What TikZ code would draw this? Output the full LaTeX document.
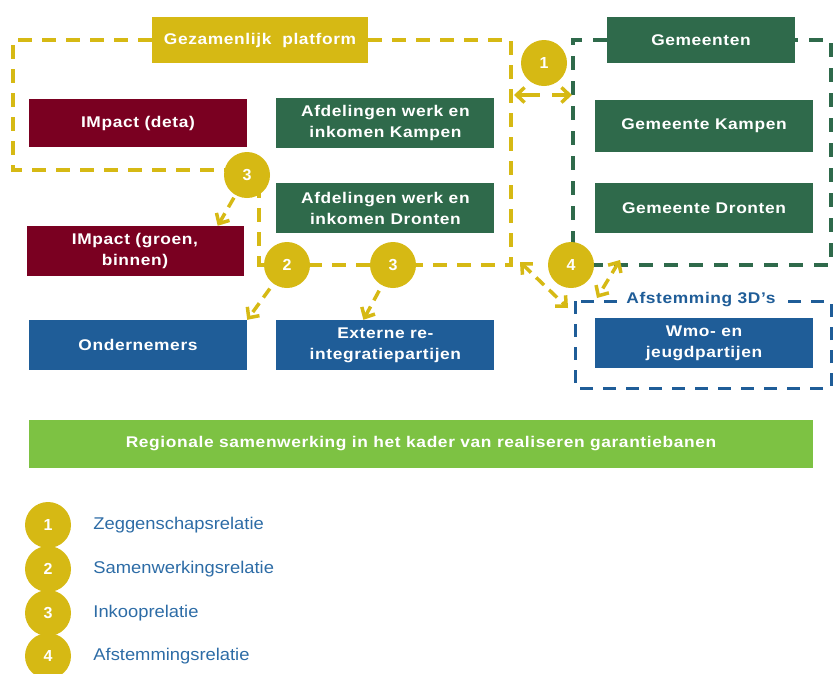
\documentclass[tikz,border=0pt]{standalone}
\usepackage{fontspec}
\setmainfont{Liberation Sans}
\newfontfamily\blokfont{Liberation Sans}[FakeStretch=1.12,LetterSpace=4]
\newfontfamily\legfont{Liberation Sans}[FakeStretch=1.08]
\usetikzlibrary{positioning,arrows.meta,backgrounds}
\definecolor{goud}{HTML}{D6B914}
\definecolor{bordeaux}{HTML}{7A0021}
\definecolor{donkergroen}{HTML}{2F6A4B}
\definecolor{blauw}{HTML}{1F5D98}
\definecolor{limoen}{HTML}{7DC243}
\definecolor{legblauw}{HTML}{2D6CA6}
\tikzset{
  blok/.style={rectangle, minimum width=218pt, minimum height=50pt, inner sep=0pt, align=center, text=white, font=\blokfont\fontsize{15.5}{21}\selectfont\bfseries},
  impact/.style={blok, fill=bordeaux},
  afdeling/.style={blok, fill=donkergroen},
  partij/.style={blok, fill=blauw},
  nummer/.style={circle, fill=goud, minimum size=46pt, inner sep=0pt, text=white, font=\fontsize{16}{19}\selectfont\bfseries},
  geelkader/.style={draw=goud, line width=3.5pt, dash pattern=on 14pt off 10pt},
  groenkader/.style={draw=donkergroen, line width=3.5pt, dash pattern=on 14pt off 11pt},
  blauwkader/.style={draw=blauw, line width=3pt, dash pattern=on 13pt off 10pt},
  pijl/.style={draw=goud, line width=3.5pt, dash pattern=on 11pt off 7pt, -{Straight Barb[length=8pt,width=15pt]}},
  relatie/.style={pijl, {Straight Barb[length=8pt,width=15pt]}-{Straight Barb[length=8pt,width=15pt]}},
  legtekst/.style={anchor=west, inner sep=0pt, text=legblauw, font=\legfont\fontsize{17}{20}\selectfont}
}
\begin{document}
\begin{tikzpicture}[x=1pt, y=-1pt]
  \useasboundingbox (0,0) rectangle (833,673);

  % kopjes
  \node[blok, fill=goud, minimum width=216pt, minimum height=46pt] (platform) at (260,40) {Gezamenlijk\ \ platform};
  \node[afdeling, minimum width=188pt, minimum height=46pt] (gemeenten) at (701,40) {Gemeenten};

  % blokken
  \node[impact, minimum height=48pt] (impactdeta) at (138,123) {IMpact (deta)};
  \node[afdeling, right=29pt of impactdeta] (afdkampen) {Afdelingen werk en\\inkomen Kampen};
  \node[afdeling, below=35pt of afdkampen] (afddronten) {Afdelingen werk en\\inkomen Dronten};
  \node[afdeling, minimum height=52pt] (gemkampen) at (704,126) {Gemeente Kampen};
  \node[afdeling, below=31pt of gemkampen] (gemdronten) {Gemeente Dronten};
  \node[impact, minimum width=217pt] (impactgb) at (135,251) {IMpact (groen,\\binnen)};
  \node[partij] (ondernemers) at (138,345) {Ondernemers};
  \node[partij, right=29pt of ondernemers] (externe) {Externe re-\\integratiepartijen};
  \node[partij] (wmo) at (704,343) {Wmo- en\\jeugdpartijen};
  \node[blok, fill=limoen, minimum width=784pt, minimum height=48pt] (regio) at (421,444) {Regionale samenwerking in het kader van realiseren garantiebanen};

  % relaties
  \node[nummer] (een) at (544,63) {1};
  \node[nummer] (drieboven) at (247,175) {3};
  \node[nummer] (twee) at (287,265) {2};
  \node[nummer] (drieonder) at (393,265) {3};
  \node[nummer] (vier) at (571,265) {4};

  \coordinate (hoeklinks) at (13,170);
  \coordinate (hoekmidden) at (259,265);
  \coordinate (hoekrechts) at (511,265);

  \begin{scope}[on background layer]
    \draw[geelkader] (platform.west) -- (13,40) -- (hoeklinks) -- (hoeklinks -| drieboven);
    \draw[geelkader] (platform.east) -- (511,40) -- (hoekrechts) -- (drieonder) -- (twee) -- (hoekmidden) -- (hoekmidden |- drieboven);
    \draw[groenkader] (gemeenten.west) -- (573,40) -- (573,265) -- (831,265) -- (831,40) -- (gemeenten.east);
    \draw[blauwkader] (575,301) rectangle (831,388);
  \end{scope}
  \node[fill=white, inner xsep=9pt, inner ysep=2pt, text=blauw, font=\blokfont\fontsize{15.5}{18.5}\selectfont\bfseries] (afstemming) at (701,300) {Afstemming 3D’s};

  \coordinate (geelrand) at (514,95);
  \coordinate (groenrand) at (572,95);
  \coordinate (geelhoek) at (520,262);
  \coordinate (blauwhoek) at (568,308);
  \coordinate (groenhoek) at (620,260);
  \coordinate (blauwboven) at (597,298);

  \draw[relatie, dash pattern=on 22pt off 12pt] (geelrand) -- (groenrand);
  \draw[relatie] (geelhoek) -- (blauwhoek);
  \draw[relatie] (groenhoek) -- (blauwboven);
  \draw[pijl, shorten <=3pt] (drieboven) -- ([xshift=-26pt]impactgb.north east);
  \draw[pijl, shorten <=6pt] (twee) -- (ondernemers.north east);
  \draw[pijl, shorten <=6pt] (drieonder) -- ([xshift=-22pt]externe.north);

  % legenda
  \foreach \nr/\ypos/\tekst in {1/525/Zeggenschapsrelatie, 2/569/Samenwerkingsrelatie, 3/613/Inkooprelatie, 4/656/Afstemmingsrelatie}{
    \node[nummer] (leg\nr) at (48,\ypos) {\nr};
    \node[legtekst, right=22pt of leg\nr] (legtekst\nr) {\tekst};
  }
\end{tikzpicture}
\end{document}
